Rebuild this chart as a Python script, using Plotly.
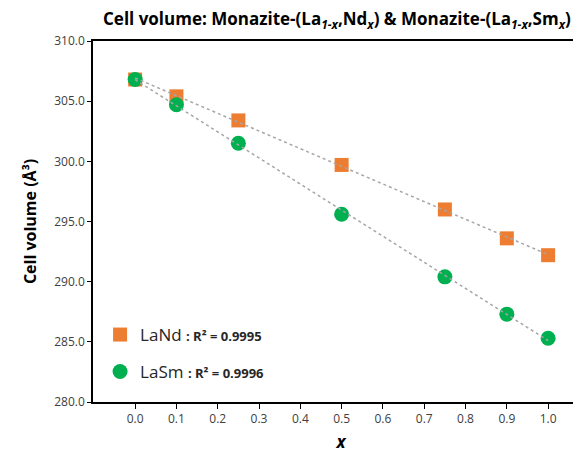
import numpy as np
import plotly.graph_objects as go

x_vals = [0.0, 0.1, 0.25, 0.5, 0.75, 0.9, 1.0]
lam_nd = [306.8, 305.4, 303.4, 299.7, 296.0, 293.6, 292.2]
lam_sm = [306.8, 304.7, 301.5, 295.6, 290.4, 287.3, 285.3]
x_ticks = [0.0, 0.1, 0.2, 0.3, 0.4, 0.5, 0.6, 0.7, 0.8, 0.9, 1.0]
y_ticks = [280, 285, 290, 295, 300, 305, 310]

ORANGE = "#ED7D31"
GREEN = "#00B050"
FONT = "Open Sans"

# the page body adds an 8px offset; layout values below compensate for it
OFF = 8
W, H = 581, 457
L, T, B = 93 - OFF, 41 - OFF, H - (402 - OFF)
PW = W - L
PH = H - T - B

fig = go.Figure()

fig.add_trace(go.Scatter(
    x=x_vals, y=lam_nd, mode="markers",
    marker=dict(symbol="square", size=14, color=ORANGE),
    name="LaNd <b><span style='font-size:13px'>: R² = 0.9995</span></b>",
    legend="legend",
))
fig.add_trace(go.Scatter(
    x=x_vals, y=lam_sm, mode="markers",
    marker=dict(symbol="circle", size=15, color=GREEN),
    name="LaSm <b><span style='font-size:13px'>: R² = 0.9996</span></b>",
    legend="legend2",
))

# linear trendlines
for ys in (lam_nd, lam_sm):
    k, b = np.polyfit(x_vals, ys, 1)
    xs = [x_vals[0], x_vals[-1]]
    fig.add_trace(go.Scatter(
        x=xs, y=[k * v + b for v in xs], mode="lines",
        line=dict(color="#A6A6A6", width=1.5, dash="dot"),
        showlegend=False, hoverinfo="skip",
    ))

legend_common = dict(
    xanchor="left", yanchor="middle", bgcolor="rgba(0,0,0,0)",
    font=dict(family=FONT, size=17, color="#262626"),
    itemsizing="trace",
)

fig.update_layout(
    width=W, height=H,
    margin=dict(l=L, r=0, t=T, b=B, autoexpand=False),
    paper_bgcolor="white", plot_bgcolor="white",
    font=dict(family=FONT, color="#404040"),
    title=dict(
        text="<b>Cell volume: Monazite-(La<sub><i>1-x</i></sub>,Nd<sub><i>x</i></sub>) &amp; Monazite-(La<sub><i>1-x</i></sub>,Sm<sub><i>x</i></sub>)</b>",
        x=(103 - OFF) / W, xanchor="left", xref="container",
        y=1 - (19 - OFF) / H, yanchor="middle", yref="container",
        font=dict(family=FONT, size=17, color="#000000"),
    ),
    legend=dict(x=(110 - 93) / PW - 0.02, y=(402 - 335) / PH, **legend_common),
    legend2=dict(x=(110 - 93) / PW - 0.02, y=(402 - 372) / PH, **legend_common),
    xaxis=dict(
        range=[-0.102, -0.102 + PW / 413], tickvals=x_ticks, tickformat=".1f",
        showgrid=False, zeroline=False, automargin=False,
        showline=True, linecolor="#000000", linewidth=1.5, mirror=True,
        ticks="outside", ticklen=5, tickcolor="#000000",
        tickfont=dict(family=FONT, size=12, color="#404040"),
        title=dict(text="<b><i>x</i></b>", standoff=10,
                   font=dict(family=FONT, size=17, color="#000000")),
    ),
    yaxis=dict(
        range=[280, 310], tickvals=y_ticks, tickformat=".1f",
        showgrid=False, zeroline=False, automargin=False,
        showline=True, linecolor="#000000", linewidth=1.5, mirror=False,
        ticks="outside", ticklen=4, tickcolor="#000000",
        tickfont=dict(family=FONT, size=12, color="#404040"),
        title=dict(text="<b>Cell volume (Å³)</b>", standoff=14,
                   font=dict(family=FONT, size=16, color="#000000")),
    ),
)

fig.write_html("out.html")
